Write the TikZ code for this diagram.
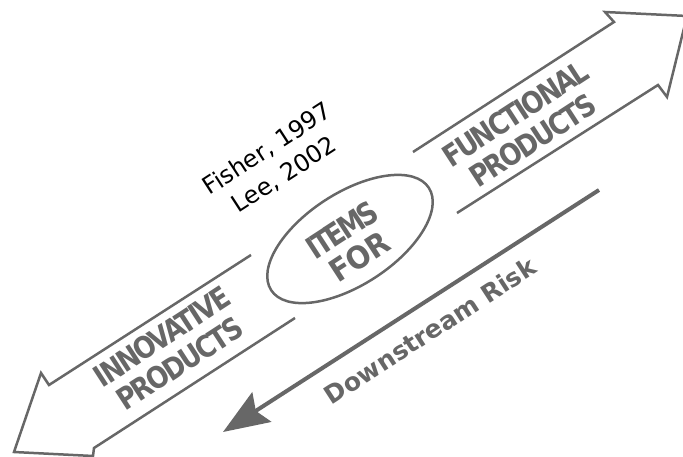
\documentclass[tikz,border=0pt]{standalone}
\usepackage{fontspec}
\usetikzlibrary{arrows.meta,shapes.geometric}
\newfontfamily\dvsans{DejaVu Sans}
\newfontfamily\dvcond{DejaVu Sans}[FakeStretch=0.86,LetterSpace=-7]
\newfontfamily\dvtight{DejaVu Sans}[FakeStretch=0.84,LetterSpace=-10]
\newfontfamily\dvwide{DejaVu Sans}[FakeStretch=0.92,LetterSpace=-2]
\definecolor{ink}{HTML}{676767}
\tikzset{
  band/.style={draw=ink, line width=2.5pt, line join=miter},
  bigtxt/.style={text=ink, font=\dvcond\bfseries\fontsize{30}{32}\selectfont, align=center, rotate=33, inner sep=0pt},
  midtxt/.style={text=ink, font=\bfseries\fontsize{31}{32}\selectfont, align=center, rotate=33, inner sep=0pt},
  reftxt/.style={text=black, font=\dvsans\fontsize{24}{31}\selectfont, align=center, rotate=33, inner sep=0pt},
  risktxt/.style={text=ink, font=\dvsans\bfseries\fontsize{25}{28}\selectfont, rotate=33, inner sep=0pt}
}
\begin{document}
\begin{tikzpicture}[x=1pt,y=-1pt]
\useasboundingbox (0,0) rectangle (683,457);
% left arrow (innovative)
\draw[band] (251,255) -- (49,385) -- (41,373) -- (14,452) -- (93,456) -- (94,448) -- (295,318);
% right arrow (functional)
\draw[band] (413,152) -- (614,22) -- (605,12) -- (687,16) -- (667,97) -- (658,85) -- (457,213);
% centre ellipse
\node[draw=ink, line width=2.5pt, ellipse, minimum width=188pt, minimum height=92pt, rotate=33, inner sep=0pt] (items) at (350,239) {};
\node[midtxt] (itemstxt) at (351,243) {{\dvtight ITEMS}\\{\dvwide FOR}};
\node[bigtxt] (innov) at (171,350) {INNOVATIVE\\PRODUCTS};
\node[bigtxt] (func) at (524,127) {FUNCTIONAL\\PRODUCTS};
\node[reftxt] (refs) at (276,162) {Fisher, 1997\\Lee, 2002};
% downstream risk
\coordinate (rs) at (599,190);
\coordinate (re) at (223,432);
\draw[ink, line width=4pt, -{Stealth[length=46pt,width=35pt,inset=7pt]}] (rs) -- (re);
\node[risktxt] (risk) at (430,331) {Downstream Risk};
\end{tikzpicture}
\end{document}
